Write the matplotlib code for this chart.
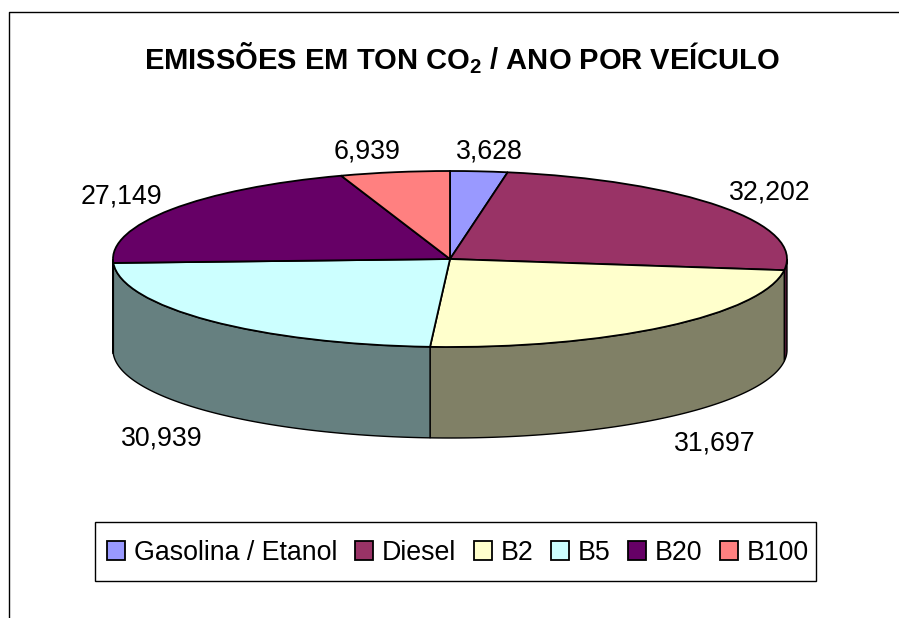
import numpy as np
import matplotlib
matplotlib.use("Agg")
import matplotlib.pyplot as plt
from matplotlib.lines import Line2D
from matplotlib.patches import Rectangle

plt.rcParams['font.family'] = ['Liberation Sans', 'DejaVu Sans']
plt.rcParams['mathtext.default'] = 'regular'

categories = ["Gasolina / Etanol", "Diesel", "B2", "B5", "B20", "B100"]
values = [3.628, 32.202, 31.697, 30.939, 27.149, 6.939]
top_colors = ["#9999FF", "#993366", "#FFFFCC", "#CCFFFF", "#660066", "#FF8080"]
side_colors = ["#4C4C80", "#4C1933", "#808066", "#668080", "#330033", "#804040"]
title = "EMISSÕES EM TON CO$_2$ / ANO POR VEÍCULO"

W, H = 899, 618
CX, CY, RX, RY, DEPTH = 450, 259, 337, 88, 91
label_px = [(489, 151.5), (770, 192.5), (715, 443.5), (162, 438.5), (121, 196.5), (367, 151.5)]

fig = plt.figure(figsize=(W / 100, H / 100), dpi=100, facecolor="white")
ax = fig.add_axes([(CX - RX) / W, 1 - (CY + RY) / H, 2 * RX / W, 2 * RY / H])

wedges, _ = ax.pie(values, colors=top_colors, startangle=90, counterclock=False,
                   radius=1, wedgeprops=dict(edgecolor="black", linewidth=1.3, zorder=5))
ax.set_aspect("auto")
ax.set_xlim(-1, 1)
ax.set_ylim(-1, 1)
ax.axis("off")
for w in wedges:
    w.set_clip_on(False)

# Side wall of the cylinder: the front half of each slice, dropped by the depth
depth = 2 * DEPTH / (2 * RY)
edges = np.concatenate([[0], np.cumsum(values)]) / np.sum(values) * 360
for i, col in enumerate(side_colors):
    a, b = max(edges[i], 90), min(edges[i + 1], 270)
    if b <= a:
        continue
    t = np.radians(np.linspace(a, b, 120))
    x, y = np.sin(t), np.cos(t)
    ax.fill(np.r_[x, x[::-1]], np.r_[y, y[::-1] - depth], facecolor=col,
            edgecolor="black", linewidth=1.0, zorder=2, clip_on=False)

px = lambda x, y: (x / W, 1 - y / H)

for v, (lx, ly) in zip(values, label_px):
    fig.text(*px(lx, ly), f"{v:.3f}".replace(".", ","), fontsize=19.3,
             ha="center", va="center", color="black")

fig.text(*px(462.5, 58), title, fontsize=21, fontweight="bold", ha="center", va="center")

fig.add_artist(Line2D([9 / W, 9 / W, 1], [0, 1 - 12 / H, 1 - 12 / H], color="black", lw=1))

fig.add_artist(Rectangle(px(95, 581), 721 / W, 59 / H, transform=fig.transFigure,
                         facecolor="white", edgecolor="black", linewidth=1, zorder=1))
leg = fig.legend(wedges, categories, ncol=6, loc="center",
                 bbox_to_anchor=px(458, 553), fontsize=19.3, frameon=False,
                 handlelength=0.67, handleheight=0.67, handletextpad=0.33,
                 columnspacing=0.66, borderpad=0, borderaxespad=0)
leg.set_zorder(2)
for h in leg.legend_handles:
    h.set_linewidth(1.3)

fig.savefig("out.png", dpi=100, facecolor="white")
